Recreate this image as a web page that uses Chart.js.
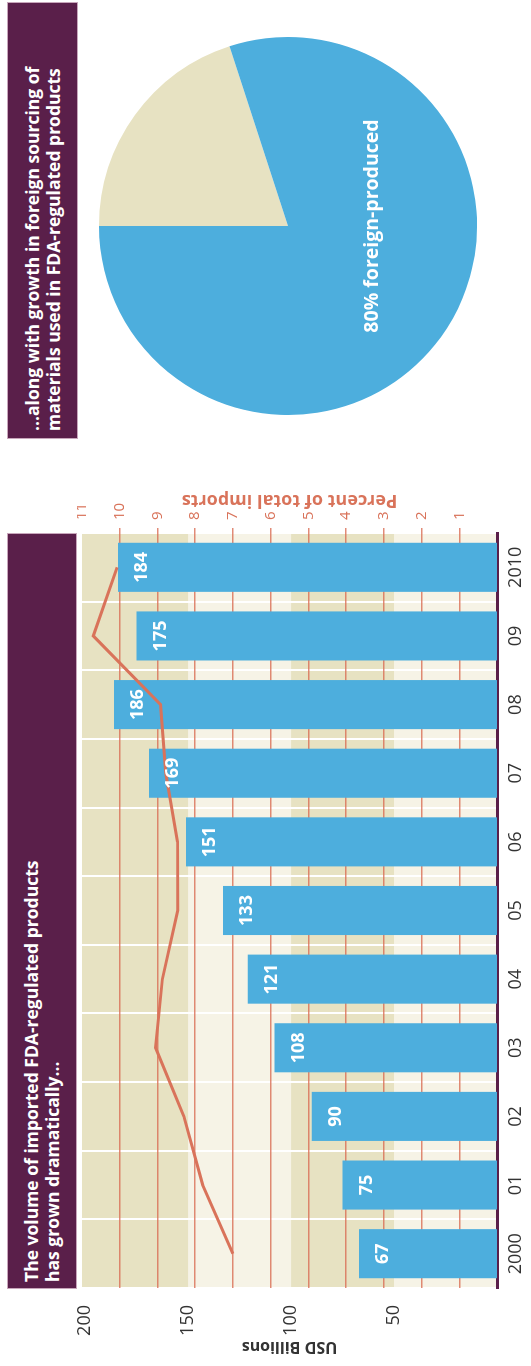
<!DOCTYPE html>
<html>
<head>
<meta charset="utf-8">
<script src="https://cdn.jsdelivr.net/npm/chart.js@4.4.1/dist/chart.umd.min.js"></script>
<style>
  html, body { margin: 0; padding: 0; background: #fff; width: 531px; height: 1366px; overflow: hidden; }
  /* the chart is laid out landscape (1366x531) and turned a quarter to fit the portrait page */
  #stage {
    position: absolute; left: 0; top: 0; width: 1366px; height: 531px;
    transform-origin: 0 0; transform: translateY(1366px) rotate(-90deg);
    font-family: "Open Sans", sans-serif;
  }
  .hdr {
    position: absolute; box-sizing: border-box; display: flex; align-items: center;
    background: #5a1f4a; color: #fff; font-weight: 700; font-size: 17.5px; line-height: 21px;
    border: 1px solid #c8a6bb;
  }
  #hdrL { left: 77px; top: 7px; width: 756px; height: 70px; padding-left: 6px; }
  #hdrR { left: 927px; top: 7px; width: 437px; height: 71px; padding-left: 7px; }
  #bar { position: absolute; left: 0; top: 77px; }
  #pie { position: absolute; left: 951px; top: 99px; }
</style>
</head>
<body>
<div id="stage">
  <div class="hdr" id="hdrL"><div>The volume of imported FDA-regulated products<br>has grown dramatically...</div></div>
  <div class="hdr" id="hdrR"><div>...along with growth in foreign sourcing of<br>materials used in FDA-regulated products</div></div>
  <canvas id="bar" width="900" height="454"></canvas>
  <canvas id="pie" width="378" height="378"></canvas>
</div>
<script>
const years = ['2000', '01', '02', '03', '04', '05', '06', '07', '08', '09', '2010'];
const importsUsd = [67, 75, 90, 108, 121, 133, 151, 169, 186, 175, 184];
const pctOfImports = [7.0, 7.8, 8.3, 9.05, 8.87, 8.46, 8.47, 8.78, 8.92, 10.7, 10.07];
const usdTicks = [50, 100, 150, 200];
const pctTicks = [1, 2, 3, 4, 5, 6, 7, 8, 9, 10, 11];
const sourceLabels = ['Domestic', 'Foreign-produced'];
const sourceShare = [20, 80];

const FONT = '"Open Sans", sans-serif';
const BLUE = '#4daedd';
const TAN = '#e7e2c2';
const CREAM = '#f6f3e6';
const SALMON = '#d9735a';
const PURPLE = '#5a1f4a';

// alternating tan / cream bands behind the plot, one per 50 billion
const bands = {
  id: 'bands',
  beforeDraw(chart) {
    const { ctx, chartArea: a, scales: { y } } = chart;
    const edges = [0, 50, 100, 150, y.max];
    ctx.save();
    for (let i = 0; i < edges.length - 1; i++) {
      const top = y.getPixelForValue(edges[i + 1]);
      const bot = y.getPixelForValue(edges[i]);
      ctx.fillStyle = i % 2 === 0 ? CREAM : TAN;
      ctx.fillRect(a.left, top, a.right - a.left, bot - top);
    }
    ctx.restore();
  }
};

const barLabels = {
  id: 'barLabels',
  afterDatasetsDraw(chart) {
    const { ctx } = chart;
    const meta = chart.getDatasetMeta(0);
    ctx.save();
    ctx.fillStyle = '#fff';
    ctx.font = 'bold 18px ' + FONT;
    ctx.textAlign = 'center';
    ctx.textBaseline = 'middle';
    meta.data.forEach((el, i) => ctx.fillText(String(importsUsd[i]), el.x, el.y + 24));
    ctx.restore();
  }
};

// right-hand axis title reads upward like the left one
const rightTitle = {
  id: 'rightTitle',
  afterDraw(chart) {
    const { ctx, chartArea: a } = chart;
    ctx.save();
    ctx.translate(866, (a.top + a.bottom) / 2);
    ctx.rotate(-Math.PI / 2);
    ctx.fillStyle = SALMON;
    ctx.font = 'bold 18px ' + FONT;
    ctx.textAlign = 'center';
    ctx.textBaseline = 'middle';
    ctx.fillText('Percent of total imports', 0, 0);
    ctx.restore();
  }
};

const noPadV = s => { s.paddingTop = 0; s.paddingBottom = 0; };

new Chart(document.getElementById('bar'), {
  data: {
    labels: years,
    datasets: [
      {
        type: 'bar',
        data: importsUsd,
        yAxisID: 'y',
        backgroundColor: BLUE,
        categoryPercentage: 1,
        barPercentage: 0.715,
        order: 1
      },
      {
        type: 'line',
        data: pctOfImports,
        yAxisID: 'y1',
        borderColor: SALMON,
        borderWidth: 3,
        pointRadius: 0,
        tension: 0,
        order: 0
      }
    ]
  },
  options: {
    responsive: false,
    animation: false,
    layout: { padding: { top: 5, left: 0, right: 0, bottom: 0 } },
    plugins: { legend: { display: false }, tooltip: { enabled: false } },
    scales: {
      x: {
        grid: { color: '#fff', lineWidth: 2, offset: true, drawTicks: false },
        border: { color: PURPLE, width: 3 },
        ticks: { color: '#333', font: { family: FONT, size: 18 }, padding: 8, maxRotation: 0, autoSkip: false },
        afterFit(s) { s.height = 34; s.paddingLeft = 0; s.paddingRight = 0; }
      },
      y: {
        position: 'left',
        min: 0,
        max: 201.5,
        grid: { display: false },
        border: { display: false },
        afterBuildTicks(s) { s.ticks = usdTicks.map(v => ({ value: v })); },
        ticks: { color: '#333', font: { family: FONT, size: 18 }, padding: 9 },
        title: { display: true, text: 'USD Billions', color: '#333', font: { family: FONT, size: 16, weight: 'bold' }, padding: { top: 10 } },
        afterFit(s) { s.width = 78; noPadV(s); }
      },
      y1: {
        position: 'right',
        min: 0,
        max: 11,
        grid: {
          color: c => (c.tick && c.tick.value === 11) ? 'rgba(0,0,0,0)' : 'rgba(217,110,85,0.8)',
          lineWidth: 1.5,
          tickLength: 5
        },
        border: { display: false },
        afterBuildTicks(s) { s.ticks = pctTicks.map(v => ({ value: v })); },
        ticks: { color: SALMON, font: { family: FONT, size: 15 }, padding: 8 },
        afterFit(s) { s.width = 67; noPadV(s); }
      }
    }
  },
  plugins: [bands, barLabels, rightTitle]
});

const pieLabel = {
  id: 'pieLabel',
  afterDatasetsDraw(chart) {
    const { ctx } = chart;
    const el = chart.getDatasetMeta(0).data[0];
    ctx.save();
    ctx.fillStyle = '#fff';
    ctx.font = 'bold 19.5px ' + FONT;
    ctx.textAlign = 'center';
    ctx.textBaseline = 'middle';
    ctx.fillText('80% foreign-produced', el.x, el.y + 84);
    ctx.restore();
  }
};

new Chart(document.getElementById('pie'), {
  type: 'pie',
  data: {
    labels: sourceLabels,
    datasets: [{ data: sourceShare, backgroundColor: [TAN, BLUE], borderWidth: 0 }]
  },
  options: {
    responsive: false,
    animation: false,
    layout: { padding: 0 },
    plugins: { legend: { display: false }, tooltip: { enabled: false } }
  },
  plugins: [pieLabel]
});
</script>
</body>
</html>
